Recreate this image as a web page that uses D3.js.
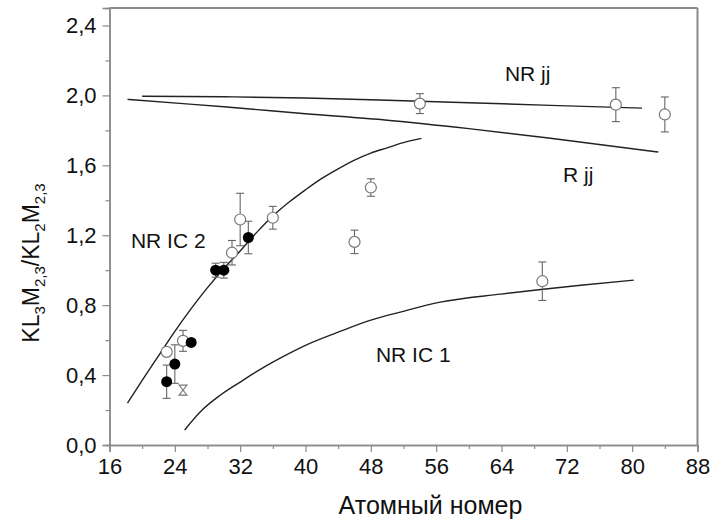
<!DOCTYPE html>
<html><head><meta charset="utf-8">
<script src="https://cdn.jsdelivr.net/npm/d3@7"></script>
<style>body{margin:0;background:#fff}svg{display:block}text{font-family:"Liberation Sans",Arial,sans-serif;fill:#111}</style>
</head><body><svg id="c" width="715" height="528"></svg>
<script>
// ---- data ----
const nrjjZ = [20, 30, 40, 50, 60, 70, 81.2];
const nrjjV = [1.995, 1.992, 1.985, 1.972, 1.958, 1.943, 1.927];
const rjjZ = [18.2, 25, 30, 40, 50, 60, 70, 83.2];
const rjjV = [1.977, 1.953, 1.935, 1.895, 1.858, 1.81, 1.755, 1.676];
const ic2Z = [18.2, 20, 22, 24, 26, 28, 30, 32, 34, 36, 38, 40, 42, 44, 46, 48, 50, 52, 54.2];
const ic2V = [0.24, 0.37, 0.51, 0.65, 0.78, 0.90, 1.01, 1.11, 1.215, 1.31, 1.39, 1.46, 1.525, 1.58, 1.63, 1.67, 1.70, 1.73, 1.754];
const ic1Z = [25.2, 27.1, 29.6, 32.0, 33.9, 36.9, 40.6, 44.3, 48.0, 51.6, 56.5, 63.9, 69.1, 73.7, 80.2];
const ic1V = [0.086, 0.189, 0.286, 0.36, 0.417, 0.497, 0.583, 0.651, 0.714, 0.76, 0.817, 0.863, 0.891, 0.914, 0.943];

const openZ = [23, 25, 31, 32, 36, 46, 48, 54, 69, 78, 84];
const openV = [0.533, 0.596, 1.10, 1.29, 1.30, 1.162, 1.473, 1.953, 0.937, 1.947, 1.891];
const openE = [0, 0.06, 0.07, 0.15, 0.065, 0.067, 0.05, 0.057, 0.11, 0.097, 0.1];
const fillZ = [23, 24, 26, 29, 30, 33];
const fillV = [0.362, 0.463, 0.587, 1.0, 1.0, 1.187];
const fillE = [0.095, 0.11, 0, 0.04, 0.045, 0.093];
const hourZ = [25];
const hourV = [0.314];

const xTicks = [16, 24, 32, 40, 48, 56, 64, 72, 80, 88];
const xMinor = [20, 28, 36, 44, 52, 60, 68, 76, 84];
const yTicks = [0, 0.4, 0.8, 1.2, 1.6, 2.0, 2.4];
const yMinor = [0.2, 0.6, 1.0, 1.4, 1.8, 2.2];

const curveLabels = ["NR jj", "R jj", "NR IC 2", "NR IC 1"];
const labelZ = [67.2, 73.4, 23.2, 53.2];
const labelV = [2.08, 1.503, 1.126, 0.474];

// ---- drawing ----
const svg = d3.select("#c");
const L = 109.5, R = 697.5, T = 8, B = 445;
const x = d3.scaleLinear().domain([16, 88]).range([L, R]);
const y = d3.scaleLinear().domain([0, 2.5]).range([B, T]);
const fmt = v => d3.format(".1f")(v).replace(".", ",");
const grey = "#8a8a8a";

// frame
svg.append("line").attr("x1", L).attr("x2", R).attr("y1", T).attr("y2", T).attr("stroke", grey).attr("stroke-width", 2);
svg.append("line").attr("x1", R).attr("x2", R).attr("y1", T).attr("y2", B).attr("stroke", grey).attr("stroke-width", 2);

// axes
svg.append("g").attr("transform", `translate(0,${B})`)
  .call(d3.axisBottom(x).tickValues(xTicks).tickSize(7).tickPadding(6).tickFormat(d3.format("d")));
svg.append("g").attr("transform", `translate(0,${B})`)
  .call(d3.axisBottom(x).tickValues(xMinor).tickSize(4).tickFormat(""));
svg.append("g").attr("transform", `translate(${L},0)`)
  .call(d3.axisLeft(y).tickValues(yTicks).tickSize(7).tickPadding(6).tickFormat(fmt));
svg.append("g").attr("transform", `translate(${L},0)`)
  .call(d3.axisLeft(y).tickValues(yMinor).tickSize(4).tickFormat(""));
svg.selectAll(".domain").attr("stroke", grey).attr("stroke-width", 1.5);
svg.selectAll(".tick line").attr("stroke", grey).attr("stroke-width", 1.2);
svg.selectAll(".tick text").attr("font-size", 22).attr("fill", "#111").style("font-family", "Liberation Sans, Arial, sans-serif");

// axis titles
svg.append("text").attr("x", 430.5).attr("y", 514).attr("text-anchor", "middle")
  .attr("font-size", 25).text("Атомный номер");
const yt = svg.append("text").attr("transform", "translate(39,263) rotate(-90)").attr("text-anchor", "middle").attr("font-size", 23);
const parts = [["KL", 0], ["3", 1], ["M", 0], ["2,3", 1], ["/KL", 0], ["2", 1], ["M", 0], ["2,3", 1]];
let prevSub = false;
parts.forEach(p => {
  const ts = yt.append("tspan").text(p[0]);
  if (p[1]) { ts.attr("font-size", 15).attr("dy", 6); prevSub = true; }
  else { ts.attr("dy", prevSub ? -6 : 0); prevSub = false; }
});

// curves
const line = d3.line().x(d => x(d[0])).y(d => y(d[1])).curve(d3.curveMonotoneX);
[[nrjjZ, nrjjV], [rjjZ, rjjV], [ic2Z, ic2V], [ic1Z, ic1V]].forEach(([zs, vs]) => {
  svg.append("path").datum(zs.map((z, i) => [z, vs[i]])).attr("d", line)
    .attr("fill", "none").attr("stroke", "#222").attr("stroke-width", 1.4);
});

// curve labels
curveLabels.forEach((t, i) => {
  svg.append("text").attr("x", x(labelZ[i])).attr("y", y(labelV[i])).attr("text-anchor", "middle")
    .attr("font-size", 21).text(t);
});

// error bars
function errBars(zs, vs, es) {
  zs.forEach((z, i) => {
    if (!es[i]) return;
    const cx = x(z), y1 = y(vs[i] + es[i]), y2 = y(vs[i] - es[i]);
    const g = svg.append("g").attr("stroke", "#666").attr("stroke-width", 1.1);
    g.append("line").attr("x1", cx).attr("x2", cx).attr("y1", y1).attr("y2", y2);
    g.append("line").attr("x1", cx - 4).attr("x2", cx + 4).attr("y1", y1).attr("y2", y1);
    g.append("line").attr("x1", cx - 4).attr("x2", cx + 4).attr("y1", y2).attr("y2", y2);
  });
}
errBars(openZ, openV, openE);
errBars(fillZ, fillV, fillE);

// points
openZ.forEach((z, i) => svg.append("circle").attr("cx", x(z)).attr("cy", y(openV[i])).attr("r", 5.5)
  .attr("fill", "#fff").attr("stroke", "#777").attr("stroke-width", 1.2));
fillZ.forEach((z, i) => svg.append("circle").attr("cx", x(z)).attr("cy", y(fillV[i])).attr("r", 5.5)
  .attr("fill", "#000"));
hourZ.forEach((z, i) => svg.append("path")
  .attr("transform", `translate(${x(z)},${y(hourV[i])})`)
  .attr("d", "M-4,-5L4,-5L-4,5L4,5Z").attr("fill", "#fff").attr("stroke", "#777").attr("stroke-width", 1.1));
</script></body></html>
